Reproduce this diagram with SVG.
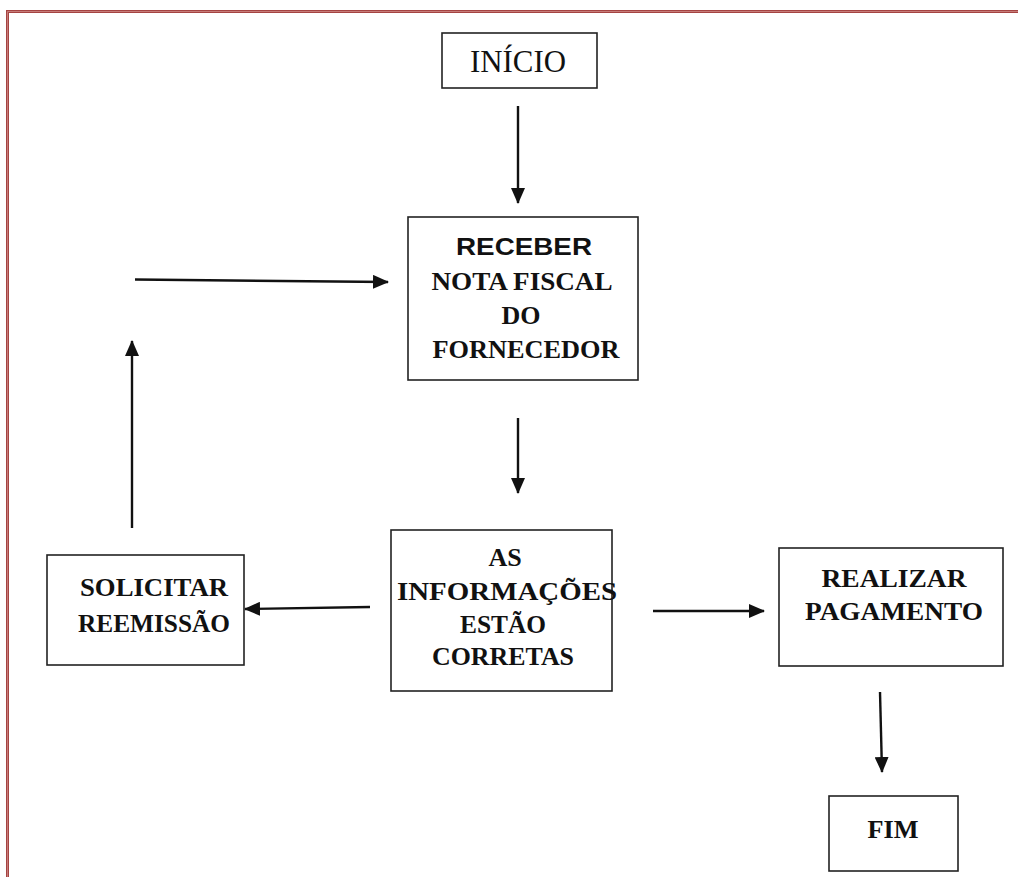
<svg xmlns="http://www.w3.org/2000/svg" width="1018" height="877" viewBox="0 0 1018 877">
  <style>
    .box { fill: #ffffff; stroke: #222222; stroke-width: 1.6; }
    .t-reg { font-family: "Liberation Serif", "Times New Roman", serif; font-size: 31px; fill: #111111; text-anchor: middle; }
    .t-bold { font-family: "Liberation Serif", "Times New Roman", serif; font-weight: bold; font-size: 26px; fill: #111111; text-anchor: middle; }
    .t-sans { font-family: "Liberation Sans", Arial, sans-serif; font-weight: bold; font-size: 23px; fill: #111111; text-anchor: middle; }
    .edge { stroke: #111111; stroke-width: 2.4; fill: none; marker-end: url(#head); }
  </style>
  <defs>
    <marker id="head" markerWidth="16" markerHeight="14" refX="15" refY="7" orient="auto" markerUnits="userSpaceOnUse">
      <path d="M0,0 L16,7 L0,14 Z" fill="#111111"/>
    </marker>
  </defs>

  <rect x="0" y="0" width="1018" height="877" fill="#ffffff"/>

  <!-- page frame -->
  <g id="frame" fill="none">
    <path d="M7.5,880 L7.5,11.5 L1020,11.5" stroke="#a54442" stroke-width="3"/>
    <path d="M7.5,880 L7.5,11.5 L1020,11.5" stroke="#cf8a88" stroke-width="0.8"/>
  </g>

  <!-- connectors -->
  <g id="connectors">
    <line class="edge" x1="518" y1="106" x2="518" y2="203"/>
    <line class="edge" x1="135" y1="279.5" x2="388" y2="282"/>
    <line class="edge" x1="132" y1="528" x2="132" y2="341"/>
    <line class="edge" x1="518" y1="418" x2="518" y2="493"/>
    <line class="edge" x1="370" y1="607" x2="245" y2="609"/>
    <line class="edge" x1="653" y1="611" x2="764" y2="611"/>
    <line class="edge" x1="880" y1="692" x2="882" y2="772"/>
  </g>

  <!-- nodes -->
  <g id="inicio">
    <rect class="box" x="442" y="33" width="155" height="55"/>
    <text class="t-reg" x="518" y="72" textLength="96" lengthAdjust="spacingAndGlyphs">INÍCIO</text>
  </g>

  <g id="receber">
    <rect class="box" x="408" y="217" width="230" height="163"/>
    <text class="t-sans" x="524" y="255" textLength="136" lengthAdjust="spacingAndGlyphs">RECEBER</text>
    <text class="t-bold" x="522" y="290" textLength="181" lengthAdjust="spacingAndGlyphs">NOTA FISCAL</text>
    <text class="t-bold" x="521" y="324">DO</text>
    <text class="t-bold" x="526" y="358" textLength="187" lengthAdjust="spacingAndGlyphs">FORNECEDOR</text>
  </g>

  <g id="solicitar">
    <rect class="box" x="47" y="555" width="197" height="110"/>
    <text class="t-bold" x="154" y="596" textLength="148" lengthAdjust="spacingAndGlyphs">SOLICITAR</text>
    <text class="t-bold" x="154" y="632" textLength="152" lengthAdjust="spacingAndGlyphs">REEMISSÃO</text>
  </g>

  <g id="verificar">
    <rect class="box" x="391" y="530" width="221" height="161"/>
    <text class="t-bold" x="505" y="566">AS</text>
    <text class="t-bold" x="507" y="600" textLength="220" lengthAdjust="spacingAndGlyphs">INFORMAÇÕES</text>
    <text class="t-bold" x="503" y="633" textLength="86" lengthAdjust="spacingAndGlyphs">ESTÃO</text>
    <text class="t-bold" x="503" y="665" textLength="142" lengthAdjust="spacingAndGlyphs">CORRETAS</text>
  </g>

  <g id="pagamento">
    <rect class="box" x="779" y="548" width="224" height="118"/>
    <text class="t-bold" x="894" y="587" textLength="145" lengthAdjust="spacingAndGlyphs">REALIZAR</text>
    <text class="t-bold" x="894" y="620" textLength="178" lengthAdjust="spacingAndGlyphs">PAGAMENTO</text>
  </g>

  <g id="fim">
    <rect class="box" x="829" y="796" width="129" height="75"/>
    <text class="t-bold" x="893" y="838" textLength="51" lengthAdjust="spacingAndGlyphs">FIM</text>
  </g>
</svg>
